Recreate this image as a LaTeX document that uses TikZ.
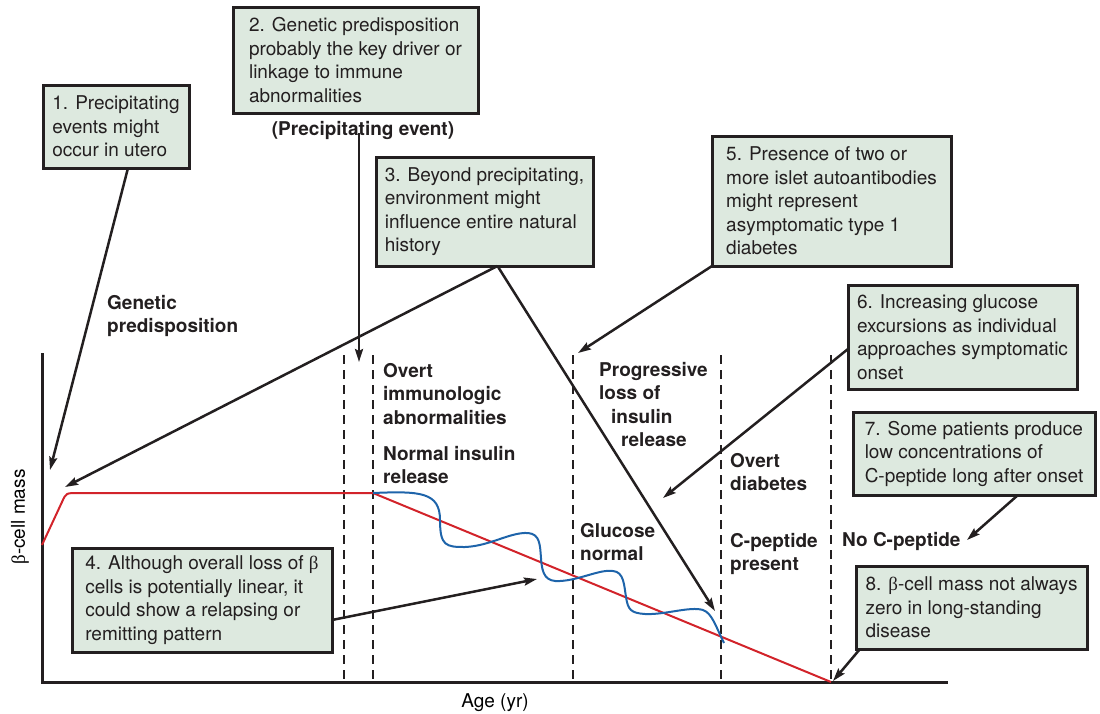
\documentclass[tikz,border=0pt]{standalone}
\usepackage{fontspec}
\setmainfont{TeX Gyre Heros}
\newfontfamily\grk{Liberation Serif}
\usetikzlibrary{arrows.meta, positioning}

\definecolor{boxfill}{RGB}{221,233,223}
\definecolor{ink}{RGB}{35,31,32}
\definecolor{massred}{RGB}{210,35,42}
\definecolor{waveblue}{RGB}{30,100,170}
\newcommand{\bet}{{\grk β}}
\newcommand{\labfont}{\fontsize{19}{23.5}\selectfont}

\tikzset{
  note/.style={draw=ink, line width=3pt, fill=boxfill, align=left, anchor=north west,
    inner xsep=7pt, inner ysep=3pt, outer sep=0pt, font=\labfont, text=ink},
  tag/.style={align=left, anchor=north west, inner sep=0pt, font=\labfont\bfseries, text=ink},
  pointer/.style={draw=ink, line width=2.5pt, -{Stealth[length=13pt, width=8pt, inset=2pt]}},
  phase/.style={draw=ink, line width=2.8pt, dash pattern=on 9pt off 6pt},
}

\begin{document}
\begin{tikzpicture}[x=1pt, y=-1pt]
    \useasboundingbox (0,0) rectangle (1100,713);

    % Ejes
    \draw[ink, line width=3pt] (42,353) -- (42,682) -- (948,682);
    \node[font=\labfont, rotate=90] (ylab) at (20,517) {\bet-cell mass};
    \node[font=\labfont] (xlab) at (495,703) {Age (yr)};

    % Fases (lineas discontinuas)
    \foreach \xp in {344,373,573,721,831}
        \draw[phase] (\xp,355) -- (\xp,682);

    % Masa de celulas beta
    \draw[massred, line width=2pt, line join=round]
        (42,545) -- (62,502) .. controls (66,493) .. (78,493) -- (373,493) -- (831,682);
    % Patron remitente
    \draw[waveblue, line width=2pt]
        (373,493) .. controls (420,491) and (440,492) .. (440,520)
        .. controls (440,546) and (446,547) .. (465,547)
        .. controls (490,546) and (510,532) .. (528,533)
        .. controls (540,534) and (540,545) .. (541,558)
        .. controls (542,575) and (546,582) .. (560,581)
        .. controls (580,580) and (600,569) .. (613,571)
        .. controls (624,572) and (624,585) .. (626,597)
        .. controls (628,610) and (631,613) .. (645,614)
        .. controls (665,615) and (690,606) .. (703,610)
        .. controls (712,613) and (716,627) .. (724,643);

    % Etiquetas de fase
    \node[tag] (gen) at (107,295) {Genetic\\predisposition};
    \node[tag] (pev) at (363,130) [anchor=center] {(Precipitating event)};
    \node[tag] (ovi) at (383,363) {Overt\\immunologic\\abnormalities};
    \node[tag] (nir) at (383,446) {Normal insulin\\release};
    \node[tag] (prl) at (599,362) {Progressive\\loss of\\\hspace*{12pt}insulin\\\hspace*{22pt}release};
    \node[tag] (gln) at (580,523) {Glucose\\normal};
    \node[tag] (ovd) at (730,453) {Overt\\diabetes};
    \node[tag] (cpp) at (730,533) {C-peptide\\present};
    \node[tag] (ncp) at (842,532) {No C-peptide};

    % Recuadros numerados
    \node[note, minimum width=146pt, minimum height=83pt] (b1) at (43,85)
        {1. Precipitating\\events might\\occur in utero};
    \node[note, minimum width=245pt, minimum height=106pt] (b2) at (233,7)
        {2. Genetic predisposition\\probably the key driver or\\linkage to immune\\abnormalities};
    \node[note, minimum width=217pt, minimum height=109pt] (b3) at (376,157)
        {3. Beyond precipitating,\\environment might\\influence entire natural\\history};
    \node[note, minimum width=260pt, minimum height=104pt] (b4) at (72,548)
        {4. Although overall loss of \bet\\cells is potentially linear, it\\could show a relapsing or\\remitting pattern};
    \node[note, minimum width=239pt, minimum height=130pt] (b5) at (712,136)
        {5. Presence of two or\\more islet autoantibodies\\might represent\\asymptomatic type 1\\diabetes};
    \node[note, minimum width=229pt, minimum height=104pt] (b6) at (848,285)
        {6. Increasing glucose\\excursions as individual\\approaches symptomatic\\onset};
    \node[note, minimum width=242pt, minimum height=83pt] (b7) at (853,412)
        {7. Some patients produce\\low concentrations of\\C-peptide long after onset};
    \node[note, minimum width=231pt, minimum height=83pt] (b8) at (856,566)
        {8. \bet-cell mass not always\\zero in long-standing\\disease};

    % Puntos senalados
    \coordinate (t1) at (50,470);
    \coordinate (t2) at (359,362);
    \coordinate (t3a) at (65,487);
    \coordinate (t3b) at (715,611);
    \coordinate (t4) at (537,579);
    \coordinate (t5) at (578,353);
    \coordinate (t6) at (663,498);
    \coordinate (t7) at (967,540);
    \coordinate (t8) at (833,681);

    % Flechas
    \draw[pointer] ([xshift=12pt]b1.south) -- (t1);
    \draw[pointer] ([xshift=-4pt]pev.south) ++(0,-6) -- (t2);
    \draw[pointer] ([xshift=13pt]b3.south) -- (t3a);
    \draw[pointer] ([xshift=13pt]b3.south) -- (t3b);
    \draw[pointer] ([yshift=-20pt]b4.east) -- (t4);
    \draw[pointer] (b5.south west) -- (t5);
    \draw[pointer] ([yshift=-12pt]b6.west) -- (t6);
    \draw[pointer] ([xshift=44pt]b7.south) -- (t7);
    \draw[pointer] ([xshift=4pt]b8.south west) -- (t8);
\end{tikzpicture}
\end{document}
